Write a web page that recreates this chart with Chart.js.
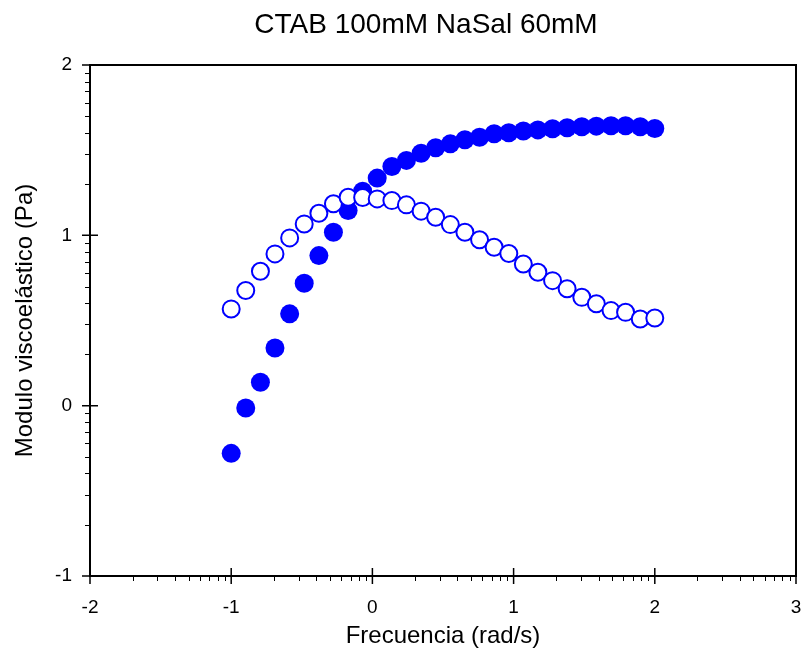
<!DOCTYPE html>
<html>
<head>
<meta charset="utf-8">
<title>CTAB 100mM NaSal 60mM</title>
<script src="https://cdn.jsdelivr.net/npm/chart.js@4.4.0/dist/chart.umd.min.js"></script>
<style>
  html, body { margin: 0; padding: 0; background: #fff; }
</style>
</head>
<body>
<canvas id="modChart" width="802" height="652"></canvas>
<script>
// log10 of frequency (rad/s), 30 points, 0.1 to 100 rad/s
const freqLog = [-1.000, -0.897, -0.793, -0.690, -0.586, -0.483, -0.379, -0.276, -0.172, -0.069,
                 0.034, 0.138, 0.241, 0.345, 0.448, 0.552, 0.655, 0.759, 0.862, 0.966,
                 1.069, 1.172, 1.276, 1.379, 1.483, 1.586, 1.690, 1.793, 1.897, 2.000];
// filled circles (log10 modulus, Pa)
const storageMod = [-0.280, -0.014, 0.137, 0.339, 0.539, 0.719, 0.881, 1.018, 1.146, 1.259,
                    1.336, 1.404, 1.440, 1.482, 1.514, 1.537, 1.561, 1.576, 1.596, 1.602,
                    1.612, 1.619, 1.626, 1.632, 1.637, 1.641, 1.643, 1.643, 1.638, 1.627];
// open circles
const lossMod = [0.568, 0.676, 0.789, 0.891, 0.985, 1.067, 1.130, 1.185, 1.224, 1.222,
                 1.214, 1.204, 1.179, 1.142, 1.106, 1.063, 1.018, 0.974, 0.930, 0.893,
                 0.832, 0.783, 0.734, 0.686, 0.636, 0.598, 0.558, 0.548, 0.509, 0.515];

const xTicks = [-2, -1, 0, 1, 2, 3];
const yTicks = [-1, 0, 1, 2];
const chartTitle = 'CTAB 100mM NaSal 60mM';

const FONT = "'Liberation Sans', Arial, sans-serif";
const toPoints = (xs, ys) => xs.map((v, i) => ({ x: v, y: ys[i] }));

// frame around the plot + crossing major ticks + log minor ticks + title
const frameAndTicks = {
  id: 'frameAndTicks',
  afterDraw(chart) {
    const { ctx, chartArea: a, scales: { x, y } } = chart;
    ctx.save();
    ctx.strokeStyle = '#000';
    ctx.lineWidth = 2;
    ctx.strokeRect(a.left, a.top, a.right - a.left, a.bottom - a.top);

    ctx.lineWidth = 1.5;
    ctx.beginPath();
    xTicks.forEach(v => {
      const px = x.getPixelForValue(v);
      ctx.moveTo(px, a.bottom - 8);
      ctx.lineTo(px, a.bottom + 8);
    });
    yTicks.forEach(v => {
      const py = y.getPixelForValue(v);
      ctx.moveTo(a.left - 8, py);
      ctx.lineTo(a.left + 8, py);
    });
    ctx.stroke();

    ctx.lineWidth = 1;
    ctx.beginPath();
    for (let d = xTicks[0]; d < xTicks[xTicks.length - 1]; d++) {
      for (let k = 2; k <= 9; k++) {
        const px = Math.round(x.getPixelForValue(d + Math.log10(k))) + 0.5;
        ctx.moveTo(px, a.bottom);
        ctx.lineTo(px, a.bottom + 5);
      }
    }
    for (let d = yTicks[0]; d < yTicks[yTicks.length - 1]; d++) {
      for (let k = 2; k <= 9; k++) {
        const py = Math.round(y.getPixelForValue(d + Math.log10(k))) + 0.5;
        ctx.moveTo(a.left - 5, py);
        ctx.lineTo(a.left, py);
      }
    }
    ctx.stroke();

    // title sits a bit left of the plot centre in the original
    ctx.fillStyle = '#000';
    ctx.font = '28px ' + FONT;
    ctx.textAlign = 'center';
    ctx.textBaseline = 'middle';
    ctx.fillText(chartTitle, (a.left + a.right) / 2 - 17, 25);
    ctx.restore();
  }
};

const ctx = document.getElementById('modChart').getContext('2d');
new Chart(ctx, {
  type: 'scatter',
  data: {
    datasets: [
      {
        label: 'open',
        data: toPoints(freqLog, lossMod),
        pointRadius: 8.5,
        pointBorderWidth: 2,
        borderColor: '#0000ff',
        backgroundColor: '#ffffff',
        order: 0
      },
      {
        label: 'filled',
        data: toPoints(freqLog, storageMod),
        pointRadius: 9.5,
        pointBorderWidth: 0,
        borderColor: '#0000ff',
        backgroundColor: '#0000ff',
        order: 1
      }
    ]
  },
  options: {
    responsive: false,
    animation: false,
    layout: { autoPadding: false, padding: { left: 0, right: 6, top: 65, bottom: 0 } },
    scales: {
      x: {
        type: 'linear',
        min: -2,
        max: 3,
        grid: { display: false, drawTicks: true, tickLength: 20 },
        border: { display: false },
        afterBuildTicks: s => { s.ticks = xTicks.map(v => ({ value: v })); },
        ticks: {
          padding: 0,
          color: '#000',
          font: { family: FONT, size: 19 },
          maxRotation: 0,
          callback: v => String(v)
        },
        title: {
          display: true,
          text: 'Frecuencia (rad/s)',
          color: '#000',
          font: { family: FONT, size: 24, lineHeight: 1.2 },
          padding: { top: 0, bottom: 1 }
        },
        afterFit: s => {
          s.height = 76;
          s.paddingLeft = 0;
          s.paddingRight = 0;
        }
      },
      y: {
        type: 'linear',
        min: -1,
        max: 2,
        grid: { display: false, drawTicks: true, tickLength: 8 },
        border: { display: false },
        afterBuildTicks: s => { s.ticks = yTicks.map(v => ({ value: v })); },
        ticks: {
          padding: 10,
          color: '#000',
          font: { family: FONT, size: 19 },
          callback: v => String(v)
        },
        title: {
          display: true,
          text: 'Modulo viscoelástico (Pa)',
          color: '#000',
          font: { family: FONT, size: 24, lineHeight: 1.2 },
          padding: { top: 10.5, bottom: 0 }
        },
        afterFit: s => {
          s.width = 90;
          s.paddingTop = 0;
          s.paddingBottom = 0;
        }
      }
    },
    plugins: {
      legend: { display: false },
      tooltip: { enabled: false },
      title: { display: false }
    }
  },
  plugins: [frameAndTicks]
});
</script>
</body>
</html>
